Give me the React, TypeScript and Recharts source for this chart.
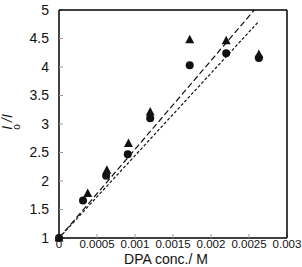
import React from 'react';
import { ScatterChart, Scatter, XAxis, YAxis, ReferenceLine } from 'recharts';

const circleX = [0, 0.000316, 0.00062, 0.000905, 0.0012, 0.00172, 0.0022, 0.00263];
const circleY = [1, 1.66, 2.09, 2.47, 3.1, 4.03, 4.24, 4.16];
const triangleX = [0, 0.000378, 0.00063, 0.000914, 0.0012, 0.00172, 0.0022, 0.00263];
const triangleY = [1, 1.78, 2.19, 2.66, 3.21, 4.48, 4.46, 4.22];
const fitLongDash = [{ x: 0, y: 1 }, { x: 0.00257, y: 5 }];
const fitShortDash = [{ x: 0, y: 1 }, { x: 0.002615, y: 4.78 }];
const xTicks = [0, 0.0005, 0.001, 0.0015, 0.002, 0.0025, 0.003];
const yTicks = [1, 1.5, 2, 2.5, 3, 3.5, 4, 4.5, 5];

const circles = circleX.map((x, i) => ({ x, y: circleY[i] }));
const triangles = triangleX.map((x, i) => ({ x, y: triangleY[i] }));

const FONT = '"Liberation Sans", Arial, sans-serif';
const INK = '#111';

const CircleShape = (p: any) => <circle cx={p.cx} cy={p.cy} r={4} fill={INK} />;
const TriangleShape = (p: any) => (
  <polygon
    points={`${p.cx},${p.cy - 5} ${p.cx - 4.5},${p.cy + 3.5} ${p.cx + 4.5},${p.cy + 3.5}`}
    fill={INK}
  />
);

export default function App() {
  return (
    <div style={{ position: 'absolute', left: 0, top: 0 }}>
      <ScatterChart width={302} height={267} margin={{ top: 9, right: 14, bottom: 0, left: 0 }}>
        <XAxis
          type="number"
          dataKey="x"
          domain={[0, 0.003]}
          ticks={xTicks}
          height={29}
          tickSize={-4}
          tickMargin={6}
          tick={{ fontSize: 11.5, fill: INK, fontFamily: FONT }}
          tickLine={{ stroke: '#999' }}
          axisLine={{ stroke: '#000', strokeWidth: 1.5 }}
          label={{
            content: () => (
              <text x={166} y={264} textAnchor="middle" fontSize={14} fontFamily={FONT} fill={INK}>
                DPA conc./ M
              </text>
            ),
          }}
        />
        <YAxis
          type="number"
          dataKey="y"
          domain={[1, 5]}
          ticks={yTicks}
          width={59}
          tickSize={-4}
          tickMargin={14}
          tick={{ fontSize: 14, fill: INK, fontFamily: FONT }}
          tickLine={{ stroke: '#999' }}
          axisLine={{ stroke: '#000', strokeWidth: 1.5 }}
          label={{
            content: () => (
              <g>
                <text
                  x={0}
                  y={0}
                  transform="translate(12,122) rotate(-90)"
                  textAnchor="middle"
                  fontSize={14}
                  fontStyle="italic"
                  fontFamily={FONT}
                  fill={INK}
                >
                  I /I
                </text>
                <text
                  x={0}
                  y={0}
                  transform="translate(20,127) rotate(-90)"
                  textAnchor="middle"
                  fontSize={10}
                  fontFamily={FONT}
                  fill={INK}
                >
                  o
                </text>
              </g>
            ),
          }}
        />
        <XAxis
          xAxisId="top"
          orientation="top"
          type="number"
          domain={[0, 0.003]}
          ticks={xTicks}
          height={1}
          tickSize={-4}
          tickFormatter={() => ''}
          tickLine={{ stroke: '#999' }}
          axisLine={{ stroke: '#000', strokeWidth: 1.5 }}
        />
        <YAxis
          yAxisId="right"
          orientation="right"
          type="number"
          domain={[1, 5]}
          ticks={yTicks}
          width={1}
          tickSize={-4}
          tickFormatter={() => ''}
          tickLine={{ stroke: '#999' }}
          axisLine={{ stroke: '#000', strokeWidth: 1.5 }}
        />
        <ReferenceLine
          segment={fitLongDash}
          stroke={INK}
          strokeWidth={1.2}
          strokeDasharray="6 3"
          ifOverflow="visible"
        />
        <ReferenceLine
          segment={fitShortDash}
          stroke={INK}
          strokeWidth={1.2}
          strokeDasharray="3 2"
          ifOverflow="visible"
        />
        <Scatter data={triangles} shape={TriangleShape} isAnimationActive={false} />
        <Scatter data={circles} shape={CircleShape} isAnimationActive={false} />
      </ScatterChart>
    </div>
  );
}
